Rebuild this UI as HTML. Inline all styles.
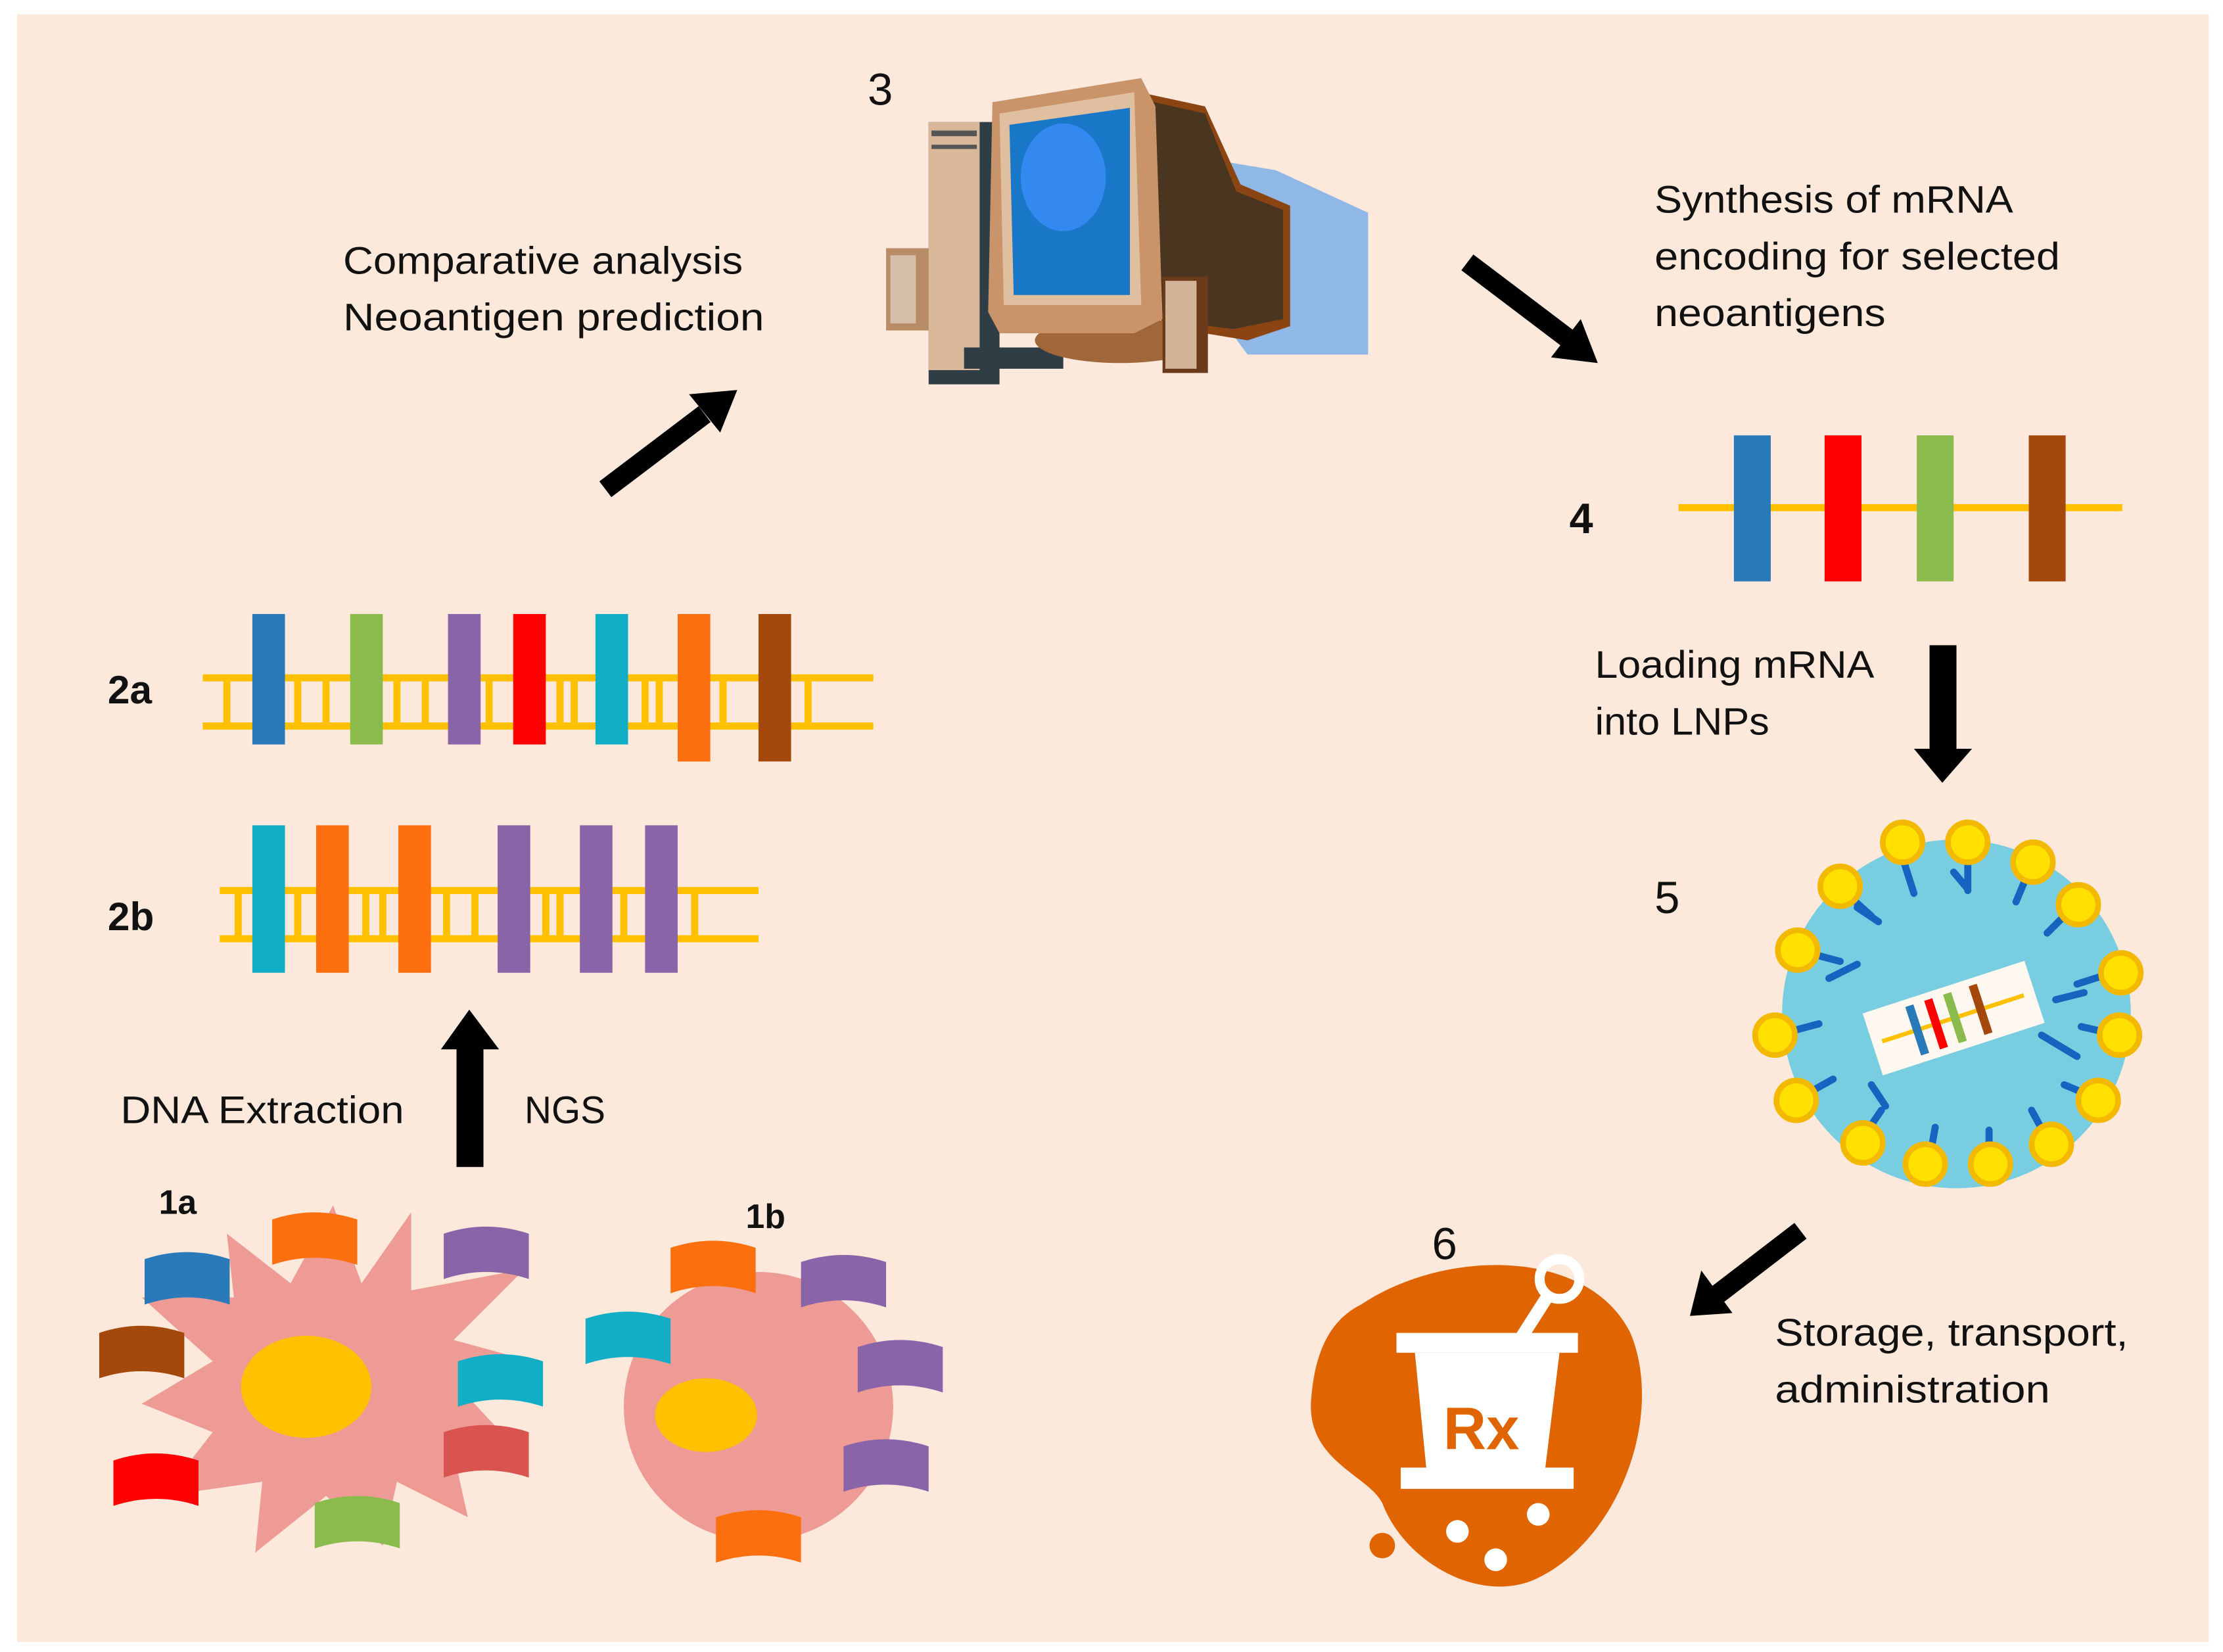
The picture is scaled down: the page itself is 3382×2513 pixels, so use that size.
<!DOCTYPE html>
<html><head><meta charset="utf-8"><style>
html,body{margin:0;padding:0;background:#fff;}
svg{display:block;}
text{font-family:"Liberation Sans",sans-serif;fill:#111;}
</style></head><body>
<svg width="3382" height="2513" viewBox="0 0 1568 1165" xmlns="http://www.w3.org/2000/svg">
<rect x="0" y="0" width="1568" height="1165" fill="#fff"/>
<rect x="12" y="10" width="1546" height="1148" fill="#fde9db"/>

<!-- Computer -->
<g>
<polygon points="840,110 900,120 965,150 965,250 880,250 850,210" fill="#8fb8e6"/>
<polygon points="790,62 850,75 875,130 910,145 910,230 880,240 820,230" fill="#8b4513"/>
<polygon points="805,70 850,80 872,135 905,148 905,225 870,232 815,225" fill="#4a3520"/>
<rect x="655" y="86" width="50" height="185" fill="#2f3d44"/>
<rect x="655" y="86" width="36" height="175" fill="#d9b89a"/>
<rect x="657" y="92" width="32" height="4" fill="#555"/>
<rect x="657" y="102" width="32" height="3" fill="#555"/>
<rect x="680" y="245" width="70" height="15" fill="#2f3d44"/>
<ellipse cx="790" cy="240" rx="60" ry="16" fill="#a0683a"/>
<polygon points="700,72 805,55 815,75 820,225 800,235 705,235 697,220" fill="#c9946a"/>
<polygon points="705,80 800,65 805,215 708,215" fill="#e0bfa0"/>
<polygon points="712,88 797,76 797,208 715,208" fill="#1877c7"/>
<ellipse cx="750" cy="125" rx="30" ry="38" fill="#3489f0"/>
<rect x="625" y="175" width="30" height="58" fill="#b98c68"/>
<rect x="628" y="180" width="18" height="48" fill="#d5bfa8"/>
<rect x="820" y="195" width="32" height="68" fill="#6b3a1a"/>
<rect x="822" y="198" width="22" height="62" fill="#d2b598"/>
</g>
<text x="612" y="74" font-size="32">3</text>

<text x="242" y="193" font-size="27" textLength="282" lengthAdjust="spacingAndGlyphs">Comparative analysis</text>
<text x="242" y="233" font-size="27" textLength="297" lengthAdjust="spacingAndGlyphs">Neoantigen prediction</text>
<text x="1167" y="150" font-size="27" textLength="253" lengthAdjust="spacingAndGlyphs">Synthesis of mRNA</text>
<text x="1167" y="190" font-size="27" textLength="286" lengthAdjust="spacingAndGlyphs">encoding for selected</text>
<text x="1167" y="230" font-size="27" textLength="163" lengthAdjust="spacingAndGlyphs">neoantigens</text>
<text x="1107" y="376" font-size="30" font-weight="bold">4</text>
<text x="1125" y="478" font-size="27" textLength="197" lengthAdjust="spacingAndGlyphs">Loading mRNA</text>
<text x="1125" y="518" font-size="27" textLength="123" lengthAdjust="spacingAndGlyphs">into LNPs</text>
<text x="1167" y="644" font-size="32">5</text>
<text x="1010" y="888" font-size="32">6</text>
<text x="1252" y="949" font-size="27" textLength="249" lengthAdjust="spacingAndGlyphs">Storage, transport,</text>
<text x="1252" y="989" font-size="27" textLength="194" lengthAdjust="spacingAndGlyphs">administration</text>
<text x="85" y="792" font-size="27" textLength="200" lengthAdjust="spacingAndGlyphs">DNA Extraction</text>
<text x="370" y="792" font-size="27" textLength="57" lengthAdjust="spacingAndGlyphs">NGS</text>
<text x="76" y="496" font-size="28" font-weight="bold">2a</text>
<text x="76" y="656" font-size="28" font-weight="bold">2b</text>
<text x="112" y="856" font-size="24" font-weight="bold">1a</text>
<text x="526" y="866" font-size="24" font-weight="bold">1b</text>

<!-- Arrows -->
<g fill="#000" stroke="none">
<line x1="427" y1="345" x2="497" y2="292" stroke="#000" stroke-width="14"/>
<polygon points="520,275 486,278 508,305"/>
<line x1="1035" y1="185" x2="1105" y2="238" stroke="#000" stroke-width="14"/>
<polygon points="1127,256 1094,252 1115,225"/>
<rect x="322" y="738" width="19" height="85"/>
<polygon points="311,740 352,740 331,712"/>
<rect x="1361" y="455" width="19" height="75"/>
<polygon points="1350,528 1391,528 1370,552"/>
<line x1="1270" y1="868" x2="1210" y2="914" stroke="#000" stroke-width="14"/>
<polygon points="1192,928 1200,896 1222,926"/>
</g>

<!-- DNA -->
<g fill="none" stroke="#ffc000" stroke-width="5">
<line x1="143" y1="478" x2="616" y2="478"/><line x1="143" y1="512" x2="616" y2="512"/>
<path d="M160 478V512M210 478V512M230 478V512M280 478V512M300 478V512M345 478V512M395 478V512M405 478V512M455 478V512M465 478V512M510 478V512M570 478V512"/>
<line x1="155" y1="628" x2="535" y2="628"/><line x1="155" y1="662" x2="535" y2="662"/>
<path d="M168 628V662M210 628V662M258 628V662M270 628V662M315 628V662M335 628V662M385 628V662M395 628V662M440 628V662M490 628V662"/>
<line x1="1184" y1="358" x2="1497" y2="358"/>
</g>
<rect x="178" y="433" width="23" height="92" fill="#2a7ab9"/>
<rect x="247" y="433" width="23" height="92" fill="#8bbb4c"/>
<rect x="316" y="433" width="23" height="92" fill="#8a64a8"/>
<rect x="362" y="433" width="23" height="92" fill="#ff0000"/>
<rect x="420" y="433" width="23" height="92" fill="#12aec6"/>
<rect x="478" y="433" width="23" height="104" fill="#fb6f0e"/>
<rect x="535" y="433" width="23" height="104" fill="#a5480c"/>
<rect x="178" y="582" width="23" height="104" fill="#12aec6"/>
<rect x="223" y="582" width="23" height="104" fill="#fb6f0e"/>
<rect x="281" y="582" width="23" height="104" fill="#fb6f0e"/>
<rect x="351" y="582" width="23" height="104" fill="#8a64a8"/>
<rect x="409" y="582" width="23" height="104" fill="#8a64a8"/>
<rect x="455" y="582" width="23" height="104" fill="#8a64a8"/>
<rect x="1223" y="307" width="26" height="103" fill="#2a7ab9"/>
<rect x="1287" y="307" width="26" height="103" fill="#ff0000"/>
<rect x="1352" y="307" width="26" height="103" fill="#8bbb4c"/>
<rect x="1431" y="307" width="26" height="103" fill="#a5480c"/>

<!-- LNP -->
<circle cx="1380" cy="715" r="123" fill="#78cde0"/>
<g stroke="#1565c0" stroke-width="5" fill="none" stroke-linecap="round">
<path d="M1300 628l20 18M1310 640l15 10M1342 605l8 25M1388 598l0 30M1378 615l10 12M1432 612l-10 24M1462 640l-18 18M1490 686l-25 8M1494 730l-26-6M1480 775l-24-10M1445 805l-12-22M1403 822l0-25M1360 823l5-28M1312 805l15-22M1268 775l25-14M1253 730l30-8M1268 670l30 8M1290 690l20-10M1470 700l-20 5M1440 730l25 15M1330 780l-10-15"/>
</g>
<g fill="#ffe000" stroke="#f3b800" stroke-width="4">
<circle cx="1342" cy="594" r="14"/><circle cx="1388" cy="594" r="14"/><circle cx="1434" cy="608" r="14"/>
<circle cx="1466" cy="638" r="14"/><circle cx="1496" cy="686" r="14"/><circle cx="1495" cy="730" r="14"/>
<circle cx="1480" cy="776" r="14"/><circle cx="1447" cy="807" r="14"/><circle cx="1404" cy="821" r="14"/>
<circle cx="1358" cy="821" r="14"/><circle cx="1314" cy="806" r="14"/><circle cx="1267" cy="776" r="14"/>
<circle cx="1252" cy="730" r="14"/><circle cx="1268" cy="670" r="14"/><circle cx="1298" cy="625" r="14"/>
</g>
<g transform="rotate(-18 1378 718)">
<rect x="1318" y="695" width="120" height="46" fill="#fff8f0"/>
<line x1="1325" y1="718" x2="1430" y2="718" stroke="#ffc000" stroke-width="3"/>
<rect x="1348" y="700" width="6" height="36" fill="#2a7ab9"/>
<rect x="1362" y="700" width="6" height="36" fill="#ff0000"/>
<rect x="1376" y="700" width="6" height="36" fill="#8bbb4c"/>
<rect x="1395" y="700" width="6" height="36" fill="#a5480c"/>
</g>

<!-- Rx -->
<path d="M960 920 C1020 880,1120 880,1150 940 C1175 1000,1140 1090,1080 1115 C1040 1130,990 1100,975 1060 C965 1040,920 1030,925 985 C928 950,940 930,960 920Z" fill="#e06400"/>
<circle cx="975" cy="1090" r="9" fill="#e06400"/>
<circle cx="1100" cy="902" r="14" fill="none" stroke="#fff" stroke-width="7"/>
<line x1="1093" y1="912" x2="1070" y2="948" stroke="#fff" stroke-width="9"/>
<rect x="985" y="940" width="128" height="14" fill="#fff"/>
<polygon points="998,954 1100,954 1090,1035 1006,1035" fill="#fff"/>
<rect x="988" y="1035" width="122" height="15" fill="#fff"/>
<text x="1018" y="1022" font-size="42" font-weight="bold" style="fill:#e06400">Rx</text>
<circle cx="1028" cy="1080" r="8" fill="#fff"/><circle cx="1055" cy="1100" r="8" fill="#fff"/><circle cx="1085" cy="1068" r="8" fill="#fff"/>

<!-- 1a cell -->
<polygon points="235,850 255,905 290,855 290,910 370,895 320,945 375,960 330,985 372,1030 320,1025 330,1070 280,1045 270,1090 230,1055 180,1095 185,1045 115,1055 150,1010 100,990 150,960 100,915 165,915 160,870 205,905" fill="#ee9a95"/>
<ellipse cx="216" cy="978" rx="46" ry="36" fill="#ffc000"/>
<path d="M102 888q30-10 60 0v32q-30-10-60 0z" fill="#2a7ab9"/>
<path d="M192 860q30-10 60 0v32q-30-10-60 0z" fill="#fb6f0e"/>
<path d="M313 870q30-10 60 0v32q-30-10-60 0z" fill="#8a64a8"/>
<path d="M70 940q30-10 60 0v32q-30-10-60 0z" fill="#a5480c"/>
<path d="M323 960q30-10 60 0v32q-30-10-60 0z" fill="#12aec6"/>
<path d="M313 1010q30-10 60 0v32q-30-10-60 0z" fill="#d9534f"/>
<path d="M80 1030q30-10 60 0v32q-30-10-60 0z" fill="#ff0000"/>
<path d="M222 1060q30-10 60 0v32q-30-10-60 0z" fill="#8bbb4c"/>
<!-- 1b cell -->
<circle cx="535" cy="992" r="95" fill="#ee9a95"/>
<ellipse cx="498" cy="998" rx="36" ry="26" fill="#ffc000"/>
<path d="M473 880q30-10 60 0v32q-30-10-60 0z" fill="#fb6f0e"/>
<path d="M565 890q30-10 60 0v32q-30-10-60 0z" fill="#8a64a8"/>
<path d="M413 930q30-10 60 0v32q-30-10-60 0z" fill="#12aec6"/>
<path d="M605 950q30-10 60 0v32q-30-10-60 0z" fill="#8a64a8"/>
<path d="M595 1020q30-10 60 0v32q-30-10-60 0z" fill="#8a64a8"/>
<path d="M505 1070q30-10 60 0v32q-30-10-60 0z" fill="#fb6f0e"/>
</svg>
</body></html>
